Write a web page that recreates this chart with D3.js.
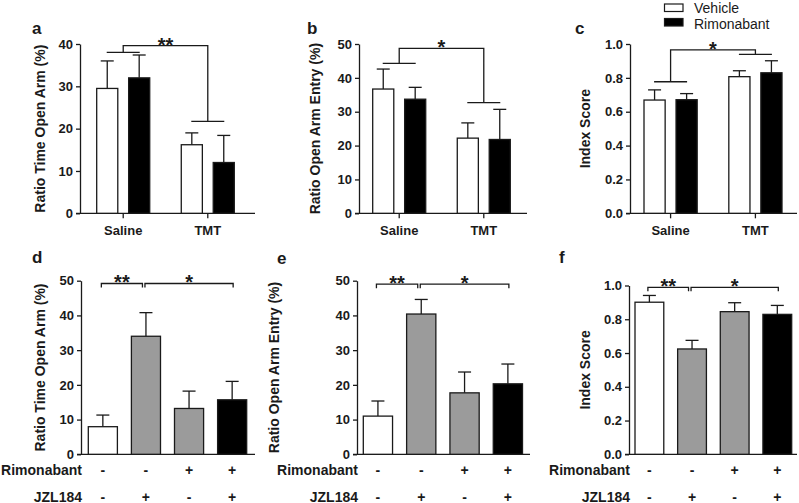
<!DOCTYPE html>
<html>
<head>
<meta charset="utf-8">
<script src="https://cdn.jsdelivr.net/npm/d3@7"></script>
<style>
  html, body { margin: 0; padding: 0; background: #fff; }
  svg { display: block; font-family: "Liberation Sans", Arial, sans-serif; }
</style>
</head>
<body>
<svg id="chart" width="799" height="503"></svg>
<script>
// ---------------- DATA ----------------
const groupCats = ["Saline", "TMT"];
const seriesNames = ["Vehicle", "Rimonabant"];

// Panel a: Ratio Time Open Arm (%)
const aVehicle = [29.5, 16.2];
const aVehicleErr = [6.5, 2.8];
const aRimonabant = [32.0, 12.0];
const aRimonabantErr = [5.4, 6.4];
const aSig = [39.6, 38.0, 21.7];   // top line, Saline line, TMT line
const aSigLabel = "**";

// Panel b: Ratio Open Arm Entry (%)
const bVehicle = [36.7, 22.2];
const bVehicleErr = [5.9, 4.5];
const bRimonabant = [33.7, 21.8];
const bRimonabantErr = [3.5, 8.9];
const bSig = [48.7, 44.3, 32.7];
const bSigLabel = "*";

// Panel c: Index Score
const cVehicle = [0.669, 0.807];
const cVehicleErr = [0.060, 0.035];
const cRimonabant = [0.671, 0.830];
const cRimonabantErr = [0.036, 0.071];
const cSig = [0.965, 0.777, 0.939];
const cSigLabel = "*";

// Bottom panels: four treatment groups
const rimonabantRow = ["-", "-", "+", "+"];
const jzlRow = ["-", "+", "-", "+"];
const treatFill = ["white", "gray", "gray", "black"];

const dMeans = [7.95, 34.0, 13.2, 15.7];
const dErr = [3.35, 6.8, 5.0, 5.3];
const dSig = [49.2];
const eMeans = [11.0, 40.4, 17.7, 20.3];
const eErr = [4.35, 4.2, 6.0, 5.7];
const eSig = [49.0];
const fMeans = [0.901, 0.624, 0.845, 0.829];
const fErr = [0.040, 0.051, 0.053, 0.053];
const fSig = [0.989];
const bottomSigLabels = ["**", "*"];

const ticks50 = [0, 10, 20, 30, 40, 50];
const ticks40 = [0, 10, 20, 30, 40];
const ticks1 = [0, 0.2, 0.4, 0.6, 0.8, 1.0];

// ---------------- STYLE ----------------
const INK = "#1a1a1a";
const GRAY = "#9b9b9b";
const fillColor = { white: "#ffffff", gray: GRAY, black: "#000000" };
const SW = 1.3;

const svg = d3.select("#chart");

function drawYAxis(p, y) {
  const g = svg.append("g").attr("transform", `translate(${p.axisX},0)`)
    .call(d3.axisLeft(y).tickValues(p.ticks).tickFormat(p.fmt).tickSize(4).tickSizeOuter(0).tickPadding(3));
  g.select(".domain").attr("stroke", INK).attr("stroke-width", SW);
  g.selectAll(".tick line").attr("stroke", INK).attr("stroke-width", SW);
  g.selectAll(".tick text").attr("fill", INK).attr("font-size", 13).attr("font-weight", "bold")
    .attr("font-family", "Liberation Sans, Arial, sans-serif");
  // x baseline
  svg.append("line").attr("x1", p.axisX - 4).attr("x2", p.axisEnd)
    .attr("y1", y(0)).attr("y2", y(0)).attr("stroke", INK).attr("stroke-width", SW);
  // y label
  svg.append("text")
    .attr("transform", `translate(${p.labelX},${(p.top + p.bottom) / 2}) rotate(-90)`)
    .attr("text-anchor", "middle").attr("font-size", 14).attr("font-weight", "bold").attr("fill", INK)
    .text(p.label);
  // letter
  svg.append("text").attr("x", p.letterX).attr("y", p.letterY)
    .attr("font-size", 17).attr("font-weight", "bold").attr("fill", INK).text(p.letter);
}

function drawBar(x, w, y, v, e, fill) {
  const cx = x + w / 2;
  // error bar (upper only)
  svg.append("line").attr("x1", cx).attr("x2", cx).attr("y1", y(v)).attr("y2", y(v + e))
    .attr("stroke", INK).attr("stroke-width", SW);
  svg.append("line").attr("x1", cx - 6.5).attr("x2", cx + 6.5).attr("y1", y(v + e)).attr("y2", y(v + e))
    .attr("stroke", INK).attr("stroke-width", SW);
  svg.append("rect").attr("x", x).attr("y", y(v)).attr("width", w).attr("height", y(0) - y(v))
    .attr("fill", fillColor[fill]).attr("stroke", INK).attr("stroke-width", SW);
}

function stars(x, lineY, label) {
  svg.append("text").attr("x", x).attr("y", lineY + 6).attr("text-anchor", "middle")
    .attr("font-size", 20).attr("font-weight", "bold").attr("fill", INK).text(label);
}

// ---------------- TOP ROW ----------------
const topPanels = [
  { letter: "a", letterX: 32, letterY: 34, axisX: 80, axisEnd: 255, barsL: 96.7, barsR: 234.3,
    top: 44, bottom: 213.3, yMax: 40, ticks: ticks40, fmt: d3.format("d"),
    label: "Ratio Time Open Arm (%)", labelX: 45,
    veh: aVehicle, vehErr: aVehicleErr, rim: aRimonabant, rimErr: aRimonabantErr, sig: aSig, sigLabel: aSigLabel },
  { letter: "b", letterX: 307, letterY: 34, axisX: 359, axisEnd: 527, barsL: 372.7, barsR: 510.3,
    top: 44, bottom: 213.3, yMax: 50, ticks: ticks50, fmt: d3.format("d"),
    label: "Ratio Open Arm Entry (%)", labelX: 320,
    veh: bVehicle, vehErr: bVehicleErr, rim: bRimonabant, rimErr: bRimonabantErr, sig: bSig, sigLabel: bSigLabel },
  { letter: "c", letterX: 575, letterY: 34, axisX: 630, axisEnd: 797, barsL: 644, barsR: 782,
    top: 44, bottom: 213.3, yMax: 1, ticks: ticks1, fmt: d3.format(".1f"),
    label: "Index Score", labelX: 590,
    veh: cVehicle, vehErr: cVehicleErr, rim: cRimonabant, rimErr: cRimonabantErr, sig: cSig, sigLabel: cSigLabel }
];

topPanels.forEach(p => {
  const y = d3.scaleLinear().domain([0, p.yMax]).range([p.bottom, p.top]);
  const x0 = d3.scaleBand().domain(groupCats).range([p.barsL, p.barsR]).paddingInner(0.373).paddingOuter(0);
  const x1 = d3.scaleBand().domain(seriesNames).range([0, x0.bandwidth()]).paddingInner(0.34).paddingOuter(0);
  drawYAxis(p, y);
  const vals = { Vehicle: [p.veh, p.vehErr, "white"], Rimonabant: [p.rim, p.rimErr, "black"] };
  groupCats.forEach((c, i) => {
    seriesNames.forEach(s => {
      drawBar(x0(c) + x1(s), x1.bandwidth(), y, vals[s][0][i], vals[s][1][i], vals[s][2]);
    });
    const cx = x0(c) + x0.bandwidth() / 2;
    svg.append("line").attr("x1", cx).attr("x2", cx).attr("y1", y(0)).attr("y2", y(0) + 5)
      .attr("stroke", INK).attr("stroke-width", SW);
    svg.append("text").attr("x", cx).attr("y", 235).attr("text-anchor", "middle")
      .attr("font-size", 13).attr("font-weight", "bold").attr("fill", INK).text(c);
  });
  // significance bracket
  const cL = x0(groupCats[0]) + x0.bandwidth() / 2;
  const cR = x0(groupCats[1]) + x0.bandwidth() / 2;
  const hw = 16.5;
  const path = d3.path();
  path.moveTo(cL - hw, y(p.sig[1])); path.lineTo(cL + hw, y(p.sig[1]));
  path.moveTo(cL, y(p.sig[1])); path.lineTo(cL, y(p.sig[0])); path.lineTo(cR, y(p.sig[0])); path.lineTo(cR, y(p.sig[2]));
  path.moveTo(cR - hw, y(p.sig[2])); path.lineTo(cR + hw, y(p.sig[2]));
  svg.append("path").attr("d", path.toString()).attr("fill", "none").attr("stroke", INK).attr("stroke-width", SW);
  stars((cL + cR) / 2, y(p.sig[0]), p.sigLabel);
});

// Legend
const legend = svg.append("g");
seriesNames.forEach((s, i) => {
  legend.append("rect").attr("x", 664.5).attr("y", 4 + i * 14.5).attr("width", 18.5).attr("height", 7.5)
    .attr("fill", i === 0 ? "#fff" : "#000").attr("stroke", INK).attr("stroke-width", 1.2);
  legend.append("text").attr("x", 694).attr("y", 12.5 + i * 16.5).attr("font-size", 14)
    .attr("fill", INK).text(s);
});

// ---------------- BOTTOM ROW ----------------
const bottomPanels = [
  { letter: "d", letterX: 32, letterY: 263, axisX: 81, axisEnd: 255, barsL: 88.3, barsR: 246.7,
    top: 280.7, bottom: 454.3, yMax: 50, ticks: ticks50, fmt: d3.format("d"),
    label: "Ratio Time Open Arm (%)", labelX: 45, means: dMeans, err: dErr, sig: dSig },
  { letter: "e", letterX: 277, letterY: 264, axisX: 357, axisEnd: 530, barsL: 363.3, barsR: 522.5,
    top: 280.7, bottom: 454.3, yMax: 50, ticks: ticks50, fmt: d3.format("d"),
    label: "Ratio Open Arm Entry (%)", labelX: 279, means: eMeans, err: eErr, sig: eSig },
  { letter: "f", letterX: 559, letterY: 263, axisX: 629, axisEnd: 797, barsL: 635, barsR: 791.7,
    top: 285.5, bottom: 454.3, yMax: 1, ticks: ticks1, fmt: d3.format(".1f"),
    label: "Index Score", labelX: 590, means: fMeans, err: fErr, sig: fSig }
];

bottomPanels.forEach(p => {
  const y = d3.scaleLinear().domain([0, p.yMax]).range([p.bottom, p.top]);
  const idx = d3.range(p.means.length);
  const x = d3.scaleBand().domain(idx).range([p.barsL, p.barsR]).paddingInner(0.325).paddingOuter(0);
  drawYAxis(p, y);
  const centers = idx.map(i => x(i) + x.bandwidth() / 2);
  idx.forEach(i => {
    drawBar(x(i), x.bandwidth(), y, p.means[i], p.err[i], treatFill[i]);
    svg.append("text").attr("x", centers[i]).attr("y", 475).attr("text-anchor", "middle")
      .attr("font-size", 14).attr("font-weight", "bold").attr("fill", INK).text(rimonabantRow[i]);
    svg.append("text").attr("x", centers[i]).attr("y", 501.5).attr("text-anchor", "middle")
      .attr("font-size", 14).attr("font-weight", "bold").attr("fill", INK).text(jzlRow[i]);
  });
  svg.append("text").attr("x", p.axisX + 1).attr("y", 475).attr("text-anchor", "end")
    .attr("font-size", 14).attr("font-weight", "bold").attr("fill", INK).text("Rimonabant");
  svg.append("text").attr("x", p.axisX + 1).attr("y", 501.5).attr("text-anchor", "end")
    .attr("font-size", 14).attr("font-weight", "bold").attr("fill", INK).text("JZL184");
  // brackets
  const ly = y(p.sig[0]);
  const spans = [[centers[0] - 1.5, centers[1] - 3.5], [centers[1] - 1, centers[3] + 1]];
  spans.forEach((sp, k) => {
    const path = d3.path();
    path.moveTo(sp[0], ly + 4); path.lineTo(sp[0], ly); path.lineTo(sp[1], ly); path.lineTo(sp[1], ly + 4);
    svg.append("path").attr("d", path.toString()).attr("fill", "none").attr("stroke", INK).attr("stroke-width", SW);
    stars((sp[0] + sp[1]) / 2, ly, bottomSigLabels[k]);
  });
});
</script>
</body>
</html>
